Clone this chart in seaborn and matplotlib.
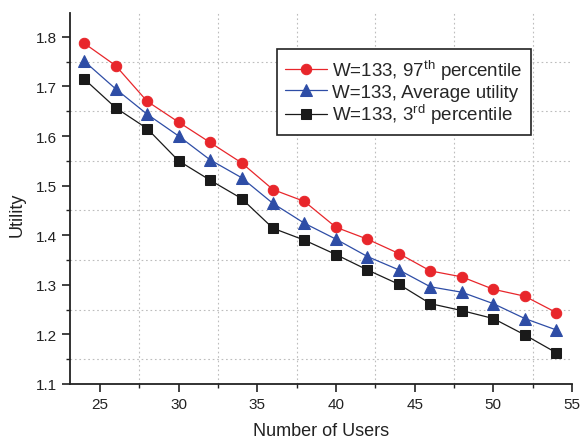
import numpy as np
import pandas as pd
import matplotlib
matplotlib.use("Agg")
import matplotlib.pyplot as plt
from matplotlib.ticker import MultipleLocator
import seaborn as sns

users = [24, 26, 28, 30, 32, 34, 36, 38, 40, 42, 44, 46, 48, 50, 52, 54]
p97 = [1.787, 1.742, 1.670, 1.628, 1.587, 1.546, 1.492, 1.468, 1.416, 1.392,
       1.363, 1.328, 1.316, 1.291, 1.277, 1.244]
avg = [1.751, 1.695, 1.644, 1.600, 1.552, 1.516, 1.464, 1.424, 1.392, 1.357,
       1.330, 1.296, 1.285, 1.262, 1.232, 1.209]
p3 = [1.715, 1.657, 1.615, 1.550, 1.511, 1.474, 1.414, 1.390, 1.361, 1.330,
      1.301, 1.262, 1.248, 1.232, 1.199, 1.163]
labels = [r"W=133, 97$^{\mathrm{th}}$ percentile",
          "W=133, Average utility",
          r"W=133, 3$^{\mathrm{rd}}$ percentile"]
x_ticks = [25, 30, 35, 40, 45, 50, 55]
y_ticks = [1.1, 1.2, 1.3, 1.4, 1.5, 1.6, 1.7, 1.8]

sns.set_style("ticks")
plt.rcParams["font.family"] = ["Liberation Sans", "DejaVu Sans"]
plt.rcParams["mathtext.fontset"] = "custom"
plt.rcParams["mathtext.rm"] = "Liberation Sans"
plt.rcParams["mathtext.it"] = "Liberation Sans:italic"

fig = plt.figure(figsize=(5.81, 4.39), dpi=100)
ax = fig.add_axes([70 / 581, 1 - 385 / 439, 502 / 581, 371 / 439])

series = [p97, avg, p3]
colors = ["#E8262B", "#2E4DA6", "#1A1A1A"]
markers = ["o", "^", "s"]
msizes = [7.5, 8.5, 6.5]
for vals, lab, c, m, ms in zip(series, labels, colors, markers, msizes):
    df = pd.DataFrame({"users": users, "utility": vals})
    sns.lineplot(data=df, x="users", y="utility", ax=ax, color=c, marker=m,
                 markersize=ms, markeredgecolor=c, linewidth=0.9, label=lab)

ax.set_xlim(23.1, 55)
ax.set_ylim(1.1, 1.848)
ax.set_xticks(x_ticks)
ax.set_yticks(y_ticks)
ax.set_yticklabels([f"{v:.1f}" for v in y_ticks])
ax.xaxis.set_minor_locator(MultipleLocator(2.5))
ax.yaxis.set_minor_locator(MultipleLocator(0.05))
ax.grid(False)
ax.grid(which="minor", linestyle=(0, (1.5, 2.5)), color="#bdbdbd", linewidth=0.8)
ax.tick_params(which="major", direction="out", length=6, width=1.2,
               labelsize=11, colors="#222222")
ax.tick_params(which="minor", direction="out", length=3, width=1.0, colors="#222222")
for s in ["top", "right"]:
    ax.spines[s].set_visible(False)
for s in ["left", "bottom"]:
    ax.spines[s].set_linewidth(1.3)
    ax.spines[s].set_color("#222222")
ax.set_xlabel("Number of Users", fontsize=13, color="#222222", labelpad=8)
ax.set_ylabel("Utility", fontsize=13, color="#222222")
ax.yaxis.set_label_coords(-0.088, 0.458)

leg = ax.legend(loc="upper left", bbox_to_anchor=(0.412, 0.903), borderaxespad=0,
                fontsize=13.5, frameon=True, fancybox=False, edgecolor="#222222",
                handlelength=2.2, handletextpad=0.3, labelspacing=0.1,
                borderpad=0.45, framealpha=1)
leg.get_frame().set_linewidth(1.2)

fig.savefig("out.png", dpi=100)
